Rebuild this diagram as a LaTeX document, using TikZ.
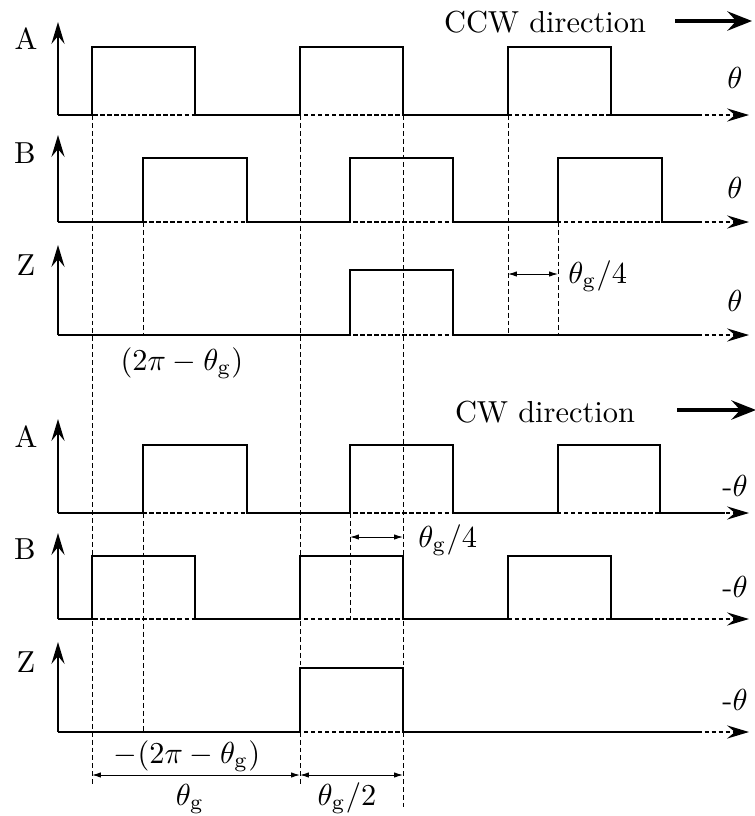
\documentclass[tikz,border=0pt]{standalone}
\usepackage{graphicx}
\usetikzlibrary{arrows.meta}
\newcommand{\Lbl}[1]{\scalebox{1.73}{#1}}
\begin{document}
\begin{tikzpicture}[x=0.02cm,y=-0.02cm,
  wave/.style={line width=0.9pt, line join=miter},
  guide/.style={line width=0.5pt, dash pattern=on 2.8pt off 1.7pt},
  haxis/.style={line width=0.7pt, dash pattern=on 2.5pt off 1.5pt, -{Stealth[length=12.5pt,width=7.5pt,inset=4.5pt]}},
  vaxis/.style={line width=0.8pt, -{Stealth[length=12.5pt,width=7.5pt,inset=4.5pt]}},
  dim/.style={line width=0.5pt, {Latex[length=5pt,width=3pt]}-{Latex[length=5pt,width=3pt]}},
  dirarrow/.style={line width=1.8pt, -{Stealth[length=14pt,width=11pt,inset=5pt]}},
  lbl/.style={font=\normalsize, inner sep=0pt},
]
\useasboundingbox (0,0) rectangle (755,816);

% ---------- guide lines ----------
\draw[guide] (92,115) -- (92,787);
\draw[guide] (143,222) -- (143,335);
\draw[guide] (300,115) -- (300,787);
\draw[guide] (403,115) -- (403,807);
\draw[guide] (508,115) -- (508,335);
\draw[guide] (558,222) -- (558,335);
\draw[guide] (143,513) -- (143,732);
\draw[guide] (350,513) -- (350,619);

% ---------- axes ----------
\foreach \b/\t in {115/22,222/135,335/245,513/419,619/533,732/642}{
  \draw[haxis] (58,\b) -- (749,\b);
  \draw[vaxis] (58,\b) -- (58,\t);
}

% ---------- CCW waveforms ----------
\draw[wave] (58,115) -- (92,115) -- (92,47) -- (195,47) -- (195,115) -- (300,115) -- (300,47) -- (403,47) -- (403,115) -- (508,115) -- (508,47) -- (611,47) -- (611,115) -- (700,115);
\draw[wave] (58,222) -- (143,222) -- (143,158) -- (247,158) -- (247,222) -- (350,222) -- (350,158) -- (453,158) -- (453,222) -- (558,222) -- (558,158) -- (662,158) -- (662,222) -- (700,222);
\draw[wave] (58,335) -- (350,335) -- (350,270) -- (453,270) -- (453,335) -- (700,335);

% ---------- CW waveforms ----------
\draw[wave] (58,513) -- (143,513) -- (143,445) -- (247,445) -- (247,513) -- (350,513) -- (350,445) -- (453,445) -- (453,513) -- (558,513) -- (558,445) -- (660,445) -- (660,513) -- (725,513);
\draw[wave] (58,619) -- (92,619) -- (92,556) -- (195,556) -- (195,619) -- (300,619) -- (300,556) -- (403,556) -- (403,619) -- (508,619) -- (508,556) -- (611,556) -- (611,619) -- (648,619);
\draw[wave] (58,732) -- (300,732) -- (300,668) -- (403,668) -- (403,732) -- (700,732);

% ---------- signal labels ----------
\node[lbl] (lA1) at (26,39) {\Lbl{A}};
\node[lbl] (lB1) at (25,153) {\Lbl{B}};
\node[lbl] (lZ1) at (26,265) {\Lbl{Z}};
\node[lbl] (lA2) at (26,437) {\Lbl{A}};
\node[lbl] (lB2) at (25,549) {\Lbl{B}};
\node[lbl] (lZ2) at (26,662) {\Lbl{Z}};

\node[lbl] (t1) at (735,78) {\Lbl{$\theta$}};
\node[lbl] (t2) at (735,188) {\Lbl{$\theta$}};
\node[lbl] (t3) at (735,301) {\Lbl{$\theta$}};
\node[lbl] (t4) at (735,486) {\Lbl{-$\theta$}};
\node[lbl] (t5) at (735,587) {\Lbl{-$\theta$}};
\node[lbl] (t6) at (735,700) {\Lbl{-$\theta$}};

% ---------- direction ----------
\node[lbl, anchor=base] (ccw) at (545,32) {\Lbl{CCW direction}};
\coordinate (ccwa) at (675,21);
\coordinate (ccwb) at (752,21);
\draw[dirarrow] (ccwa) -- (ccwb);
\node[lbl, anchor=base] (cw) at (545,422) {\Lbl{CW direction}};
\coordinate (cwa) at (677,410);
\coordinate (cwb) at (756,410);
\draw[dirarrow] (cwa) -- (cwb);

% ---------- dimensions ----------
\coordinate (d1a) at (508,274);
\coordinate (d1b) at (558,274);
\draw[dim] (d1a) -- (d1b);
\node[lbl, anchor=base west] (d1l) at (568,283) {\Lbl{$\theta_{\mathrm{g}}/4$}};

\coordinate (d2a) at (350,537);
\coordinate (d2b) at (403,537);
\draw[dim] (d2a) -- (d2b);
\node[lbl, anchor=base west] (d2l) at (418,547) {\Lbl{$\theta_{\mathrm{g}}/4$}};

\coordinate (d3a) at (92,775);
\coordinate (d3b) at (300,775);
\coordinate (d3c) at (403,775);
\draw[dim] (d3a) -- (d3b);
\draw[dim] (d3b) -- (d3c);
\node[lbl, anchor=base] (d3l) at (190,805) {\Lbl{$\theta_{\mathrm{g}}$}};
\node[lbl, anchor=base] (d4l) at (347,805) {\Lbl{$\theta_{\mathrm{g}}/2$}};

\node[lbl, anchor=base] (p1) at (182,370) {\Lbl{$(2\pi-\theta_{\mathrm{g}})$}};
\node[lbl, anchor=base] (p2) at (187,763) {\Lbl{$-(2\pi-\theta_{\mathrm{g}})$}};
\end{tikzpicture}
\end{document}
